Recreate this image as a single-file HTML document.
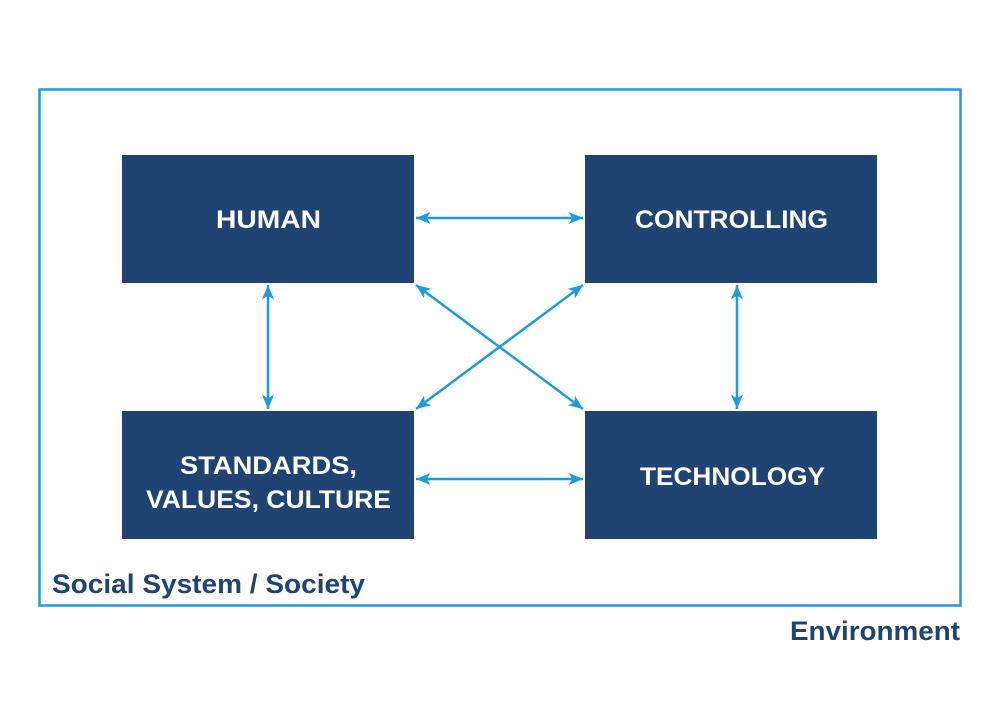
<!DOCTYPE html>
<html><head><style>html,body{margin:0;padding:0;background:#fff;}svg{display:block;}</style></head>
<body>
<svg width="1000" height="705" viewBox="0 0 1000 705" xmlns="http://www.w3.org/2000/svg">
<defs>
<marker id="a" viewBox="0 0 10 10" refX="9" refY="5" markerWidth="5.5" markerHeight="5.5" orient="auto-start-reverse" markerUnits="userSpaceOnUse">
</marker>
<marker id="h" viewBox="0 0 12 10" refX="12" refY="5" markerWidth="16" markerHeight="12" orient="auto-start-reverse" markerUnits="userSpaceOnUse">
<path d="M0,0 L12,5 L0,10 L3,5 Z" fill="#1e9bdc"/>
</marker>
</defs>
<rect x="39.5" y="89.5" width="921" height="516" fill="none" stroke="#1e9bdc" stroke-width="2.5"/>
<g fill="#1f4373">
<rect x="122" y="155" width="292" height="128"/>
<rect x="585" y="155" width="292" height="128"/>
<rect x="122" y="411" width="292" height="128"/>
<rect x="585" y="411" width="292" height="128"/>
</g>
<g stroke="#1e9bdc" stroke-width="2.5" marker-start="url(#h)" marker-end="url(#h)">
<line x1="416" y1="218" x2="583" y2="218"/>
<line x1="416" y1="479" x2="583" y2="479"/>
<line x1="268" y1="285" x2="268" y2="409"/>
<line x1="737" y1="285" x2="737" y2="409"/>
<line x1="416" y1="285" x2="583" y2="409"/>
<line x1="583" y1="285" x2="416" y2="409"/>
</g>
<g font-family="Liberation Sans, sans-serif" font-weight="bold" fill="#fff" font-size="25">
<text x="216" y="228" textLength="105" lengthAdjust="spacingAndGlyphs">HUMAN</text>
<text x="635" y="228" textLength="193" lengthAdjust="spacingAndGlyphs">CONTROLLING</text>
<text x="180" y="474" textLength="177" lengthAdjust="spacingAndGlyphs">STANDARDS,</text>
<text x="146" y="508" textLength="245" lengthAdjust="spacingAndGlyphs">VALUES, CULTURE</text>
<text x="640" y="485" textLength="185" lengthAdjust="spacingAndGlyphs">TECHNOLOGY</text>
</g>
<g font-family="Liberation Sans, sans-serif" font-weight="bold" fill="#1f4373" font-size="27">
<text x="52" y="593" textLength="313" lengthAdjust="spacingAndGlyphs">Social System / Society</text>
<text x="790" y="640" textLength="170" lengthAdjust="spacingAndGlyphs">Environment</text>
</g>
</svg>
</body></html>
